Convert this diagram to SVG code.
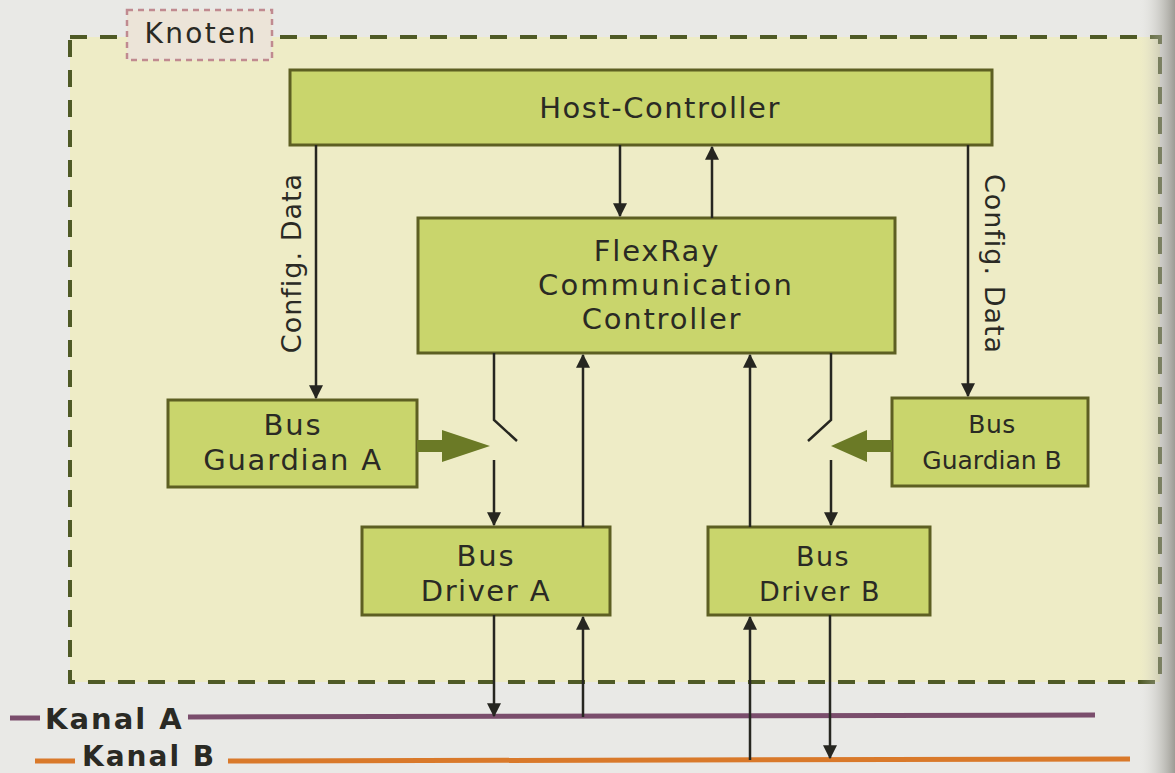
<svg xmlns="http://www.w3.org/2000/svg" width="1175" height="773" viewBox="0 0 1175 773">
<defs>
<style>
.box{fill:#c9d56c;stroke:#5d5f22;stroke-width:3}
.t{font-family:"DejaVu Sans","Open Sans",sans-serif;fill:#2a2a24;text-anchor:middle;font-size:29px;letter-spacing:1.8px}
.ln{stroke:#262620;stroke-width:2.5;fill:none}
.ga{fill:#6b7a26}
.k{font-family:"DejaVu Sans","Open Sans",sans-serif;font-weight:bold;fill:#2a2a24;letter-spacing:2px}
</style>
<marker id="a" viewBox="0 0 12 12" refX="11" refY="6" markerWidth="14" markerHeight="16" markerUnits="userSpaceOnUse" orient="auto">
<path d="M0,0 L12,6 L0,12 z" fill="#262620"/>
</marker>
<linearGradient id="shade" x1="0" y1="0" x2="1" y2="0">
<stop offset="0" stop-color="#dcdcd8" stop-opacity="0"/>
<stop offset="1" stop-color="#8a8880" stop-opacity="0.8"/>
</linearGradient>
</defs>
<rect width="1175" height="773" fill="#e9e9e6"/>
<g id="knoten">
<rect x="70" y="37" width="1090" height="645" fill="#eeecc6" stroke="#4f5a26" stroke-width="4" stroke-dasharray="17,13"/>
<rect x="127" y="10" width="145" height="50" fill="#ece4d8" stroke="#c08a90" stroke-width="2.5" stroke-dasharray="6,5"/>
<text class="t" x="201" y="43" style="font-size:28px;letter-spacing:2.3px">Knoten</text>
</g>
<rect x="1140" y="0" width="35" height="773" fill="url(#shade)"/>
<g id="host">
<rect class="box" x="290" y="70" width="702" height="75"/>
<text class="t" x="660" y="118" style="letter-spacing:1.5px">Host-Controller</text>
</g>
<g id="fcc">
<rect class="box" x="418" y="218" width="477" height="135"/>
<text class="t" x="657" y="261">FlexRay</text>
<text class="t" x="666" y="295" style="letter-spacing:2.1px">Communication</text>
<text class="t" x="662" y="329">Controller</text>
</g>
<g id="bga">
<rect class="box" x="168" y="400" width="249" height="87"/>
<text class="t" x="293" y="435">Bus</text>
<text class="t" x="293" y="470">Guardian A</text>
</g>
<g id="bgb">
<rect class="box" x="892" y="398" width="196" height="88"/>
<text class="t" x="992" y="433" style="font-size:25px;letter-spacing:0.5px">Bus</text>
<text class="t" x="992" y="469" style="font-size:25px;letter-spacing:0px">Guardian B</text>
</g>
<g id="bda">
<rect class="box" x="362" y="527" width="248" height="88"/>
<text class="t" x="486" y="566">Bus</text>
<text class="t" x="486" y="601" style="letter-spacing:1.5px">Driver A</text>
</g>
<g id="bdb">
<rect class="box" x="708" y="527" width="222" height="88"/>
<text class="t" x="823" y="566" style="font-size:27px;letter-spacing:1.5px">Bus</text>
<text class="t" x="820" y="601" style="font-size:27px;letter-spacing:1.5px">Driver B</text>
</g>
<g id="kanaele">
<line x1="10" y1="718" x2="40" y2="718" stroke="#7a4d6c" stroke-width="5"/>
<text class="k" x="45" y="729" font-size="29">Kanal A</text>
<line x1="188" y1="717" x2="1095" y2="715" stroke="#7a4d6c" stroke-width="5"/>
<line x1="35" y1="761" x2="75" y2="761" stroke="#d9792a" stroke-width="5"/>
<text class="k" x="82" y="766" font-size="28">Kanal B</text>
<line x1="228" y1="761" x2="1130" y2="759" stroke="#d9792a" stroke-width="5"/>
</g>
<g id="connectors">
<line class="ln" x1="620" y1="145" x2="620" y2="216" marker-end="url(#a)"/>
<line class="ln" x1="712" y1="218" x2="712" y2="147" marker-end="url(#a)"/>
<line class="ln" x1="316" y1="145" x2="316" y2="398" marker-end="url(#a)"/>
<line class="ln" x1="968" y1="145" x2="968" y2="396" marker-end="url(#a)"/>
<text class="t" transform="translate(301,263) rotate(-90)" style="font-size:27px;letter-spacing:1px">Config. Data</text>
<text class="t" transform="translate(985,264) rotate(90)" style="font-size:27px;letter-spacing:1px">Config. Data</text>
<polyline class="ln" points="494,353 494,420 517,441"/>
<line class="ln" x1="494" y1="460" x2="494" y2="525" marker-end="url(#a)"/>
<polyline class="ln" points="831,353 831,420 808,441"/>
<line class="ln" x1="831" y1="460" x2="831" y2="525" marker-end="url(#a)"/>
<line class="ln" x1="583" y1="527" x2="583" y2="355" marker-end="url(#a)"/>
<line class="ln" x1="750" y1="527" x2="750" y2="355" marker-end="url(#a)"/>
<path class="ga" d="M417,440 L442,440 L442,430 L490,446 L442,462 L442,452 L417,452 z"/>
<path class="ga" d="M892,440 L867,440 L867,430 L831,446 L867,462 L867,452 L892,452 z"/>
<line class="ln" x1="494" y1="615" x2="494" y2="716" marker-end="url(#a)"/>
<line class="ln" x1="583" y1="717" x2="583" y2="617" marker-end="url(#a)"/>
<line class="ln" x1="750" y1="760" x2="750" y2="617" marker-end="url(#a)"/>
<line class="ln" x1="830" y1="615" x2="830" y2="758" marker-end="url(#a)"/>
</g>
</svg>
